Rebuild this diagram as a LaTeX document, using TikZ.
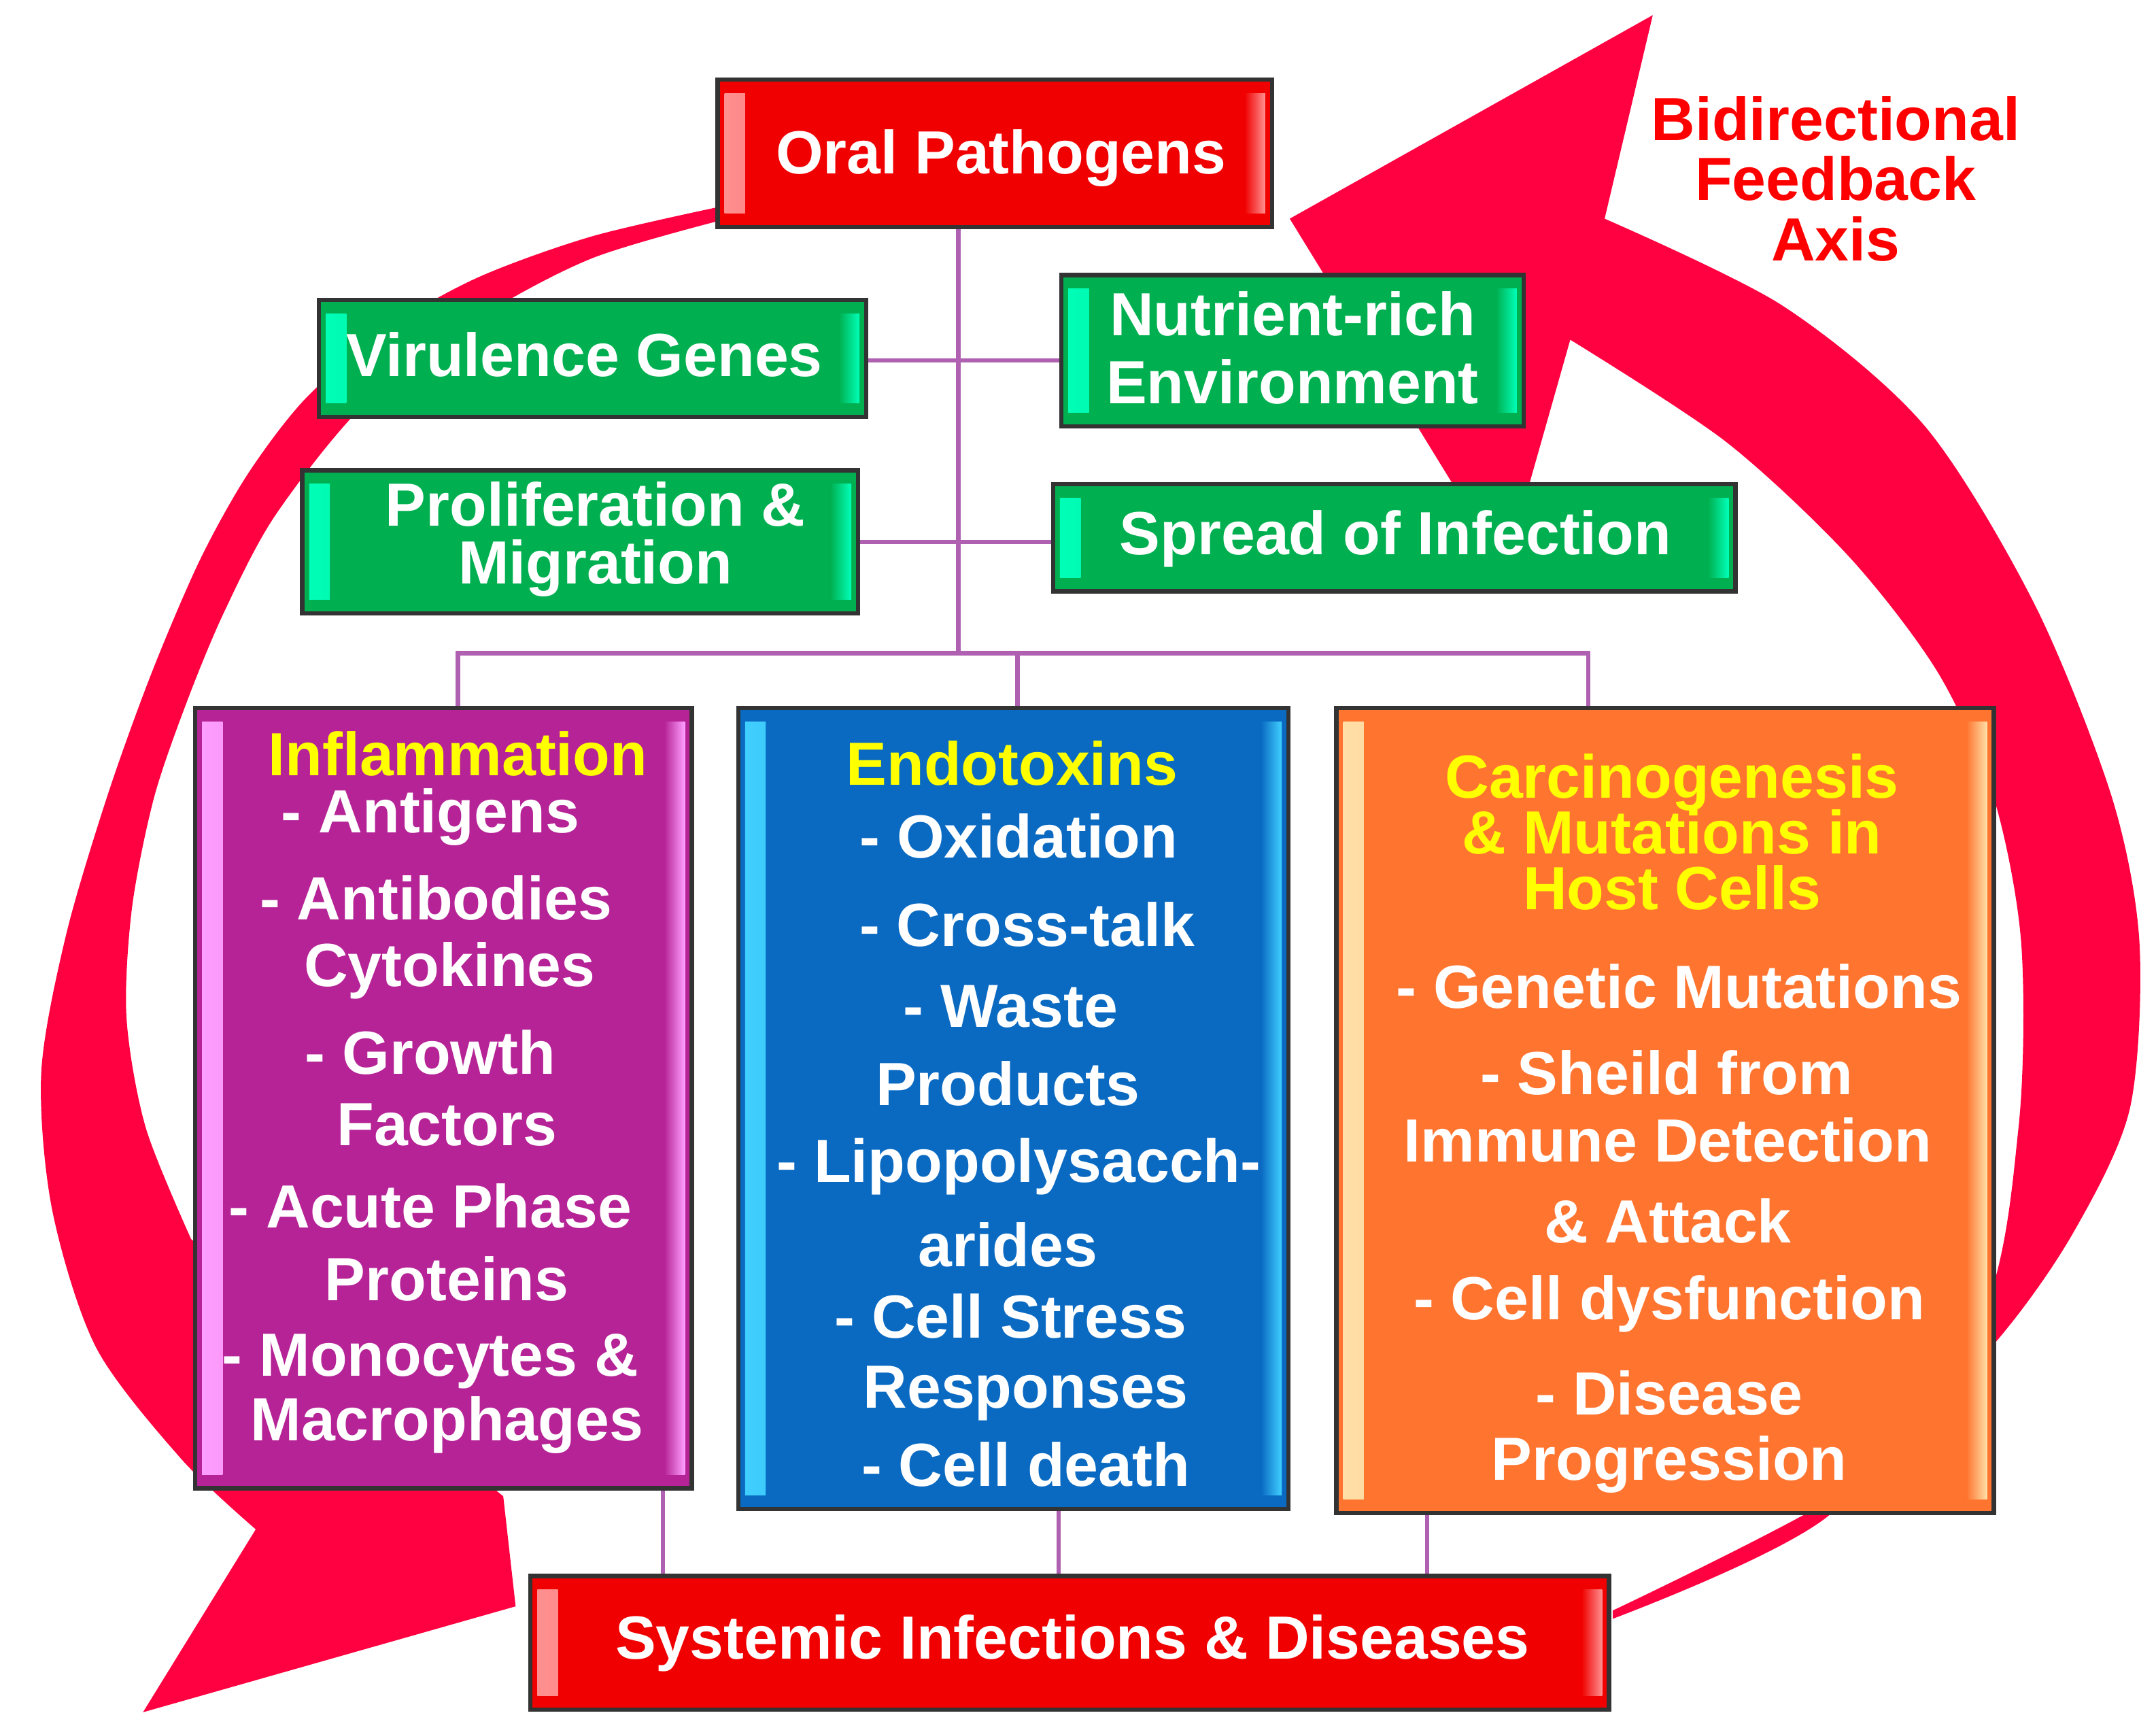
\documentclass[tikz,border=0pt]{standalone}
\usepackage{fontspec}
\setmainfont{Liberation Sans}
\definecolor{arr}{HTML}{FF0040}
\definecolor{conn}{HTML}{B060B0}
\definecolor{rbase}{HTML}{F00000}\definecolor{rstrip}{HTML}{FF9090}
\definecolor{gbase}{HTML}{00B050}\definecolor{gstrip}{HTML}{00FFB8}
\definecolor{pbase}{HTML}{B52396}\definecolor{pstrip}{HTML}{FFA0FF}
\definecolor{bbase}{HTML}{0A6AC2}\definecolor{bstrip}{HTML}{40D0FF}
\definecolor{obase}{HTML}{FF7530}\definecolor{ostrip}{HTML}{FFE0A8}
\definecolor{ytext}{HTML}{FFFF00}
\definecolor{border}{HTML}{333333}
\tikzset{
  box/.style 2 args={draw=border, line width=0.9pt, fill=#1, inner sep=0pt,
    path picture={
      \shade[left color=#2, right color=#1] ([xshift=0.05cm,yshift=0.1cm]path picture bounding box.south west) rectangle ([xshift=0.2cm,yshift=-0.1cm]path picture bounding box.north west);
      \shade[left color=#1, right color=#2] ([xshift=-0.2cm,yshift=0.1cm]path picture bounding box.south east) rectangle ([xshift=-0.05cm,yshift=-0.1cm]path picture bounding box.north east);}},
  txt/.style={font=\fontsize{12.6}{14}\selectfont\bfseries, text=white, inner sep=0pt, align=center},
  ytxt/.style={txt, text=ytext},
  link/.style={draw=conn, line width=0.9pt}
}
\begin{document}
\begin{tikzpicture}[x=0.01cm,y=-0.01cm]
\useasboundingbox (0,0) rectangle (1568,1256);
% feedback arrows
\fill[arr] (1173,1177) -- plot[smooth] coordinates {(1173,1177)(1330,1102)(1440,960)(1468,820)(1470,686)(1450,580)(1410,490)(1345,405)(1255,321)(1142,247)}
  -- (1100,395) -- (1083,395) -- (938,159) -- (1202,11) -- (1167,159)
  -- plot[smooth] coordinates {(1167,159)(1296,222)(1400,310)(1480,440)(1536,580)(1556,686)(1549,806)(1508,896)(1453,974)(1357,1075)(1173,1171)} -- cycle;
\fill[arr] (525,150) -- plot[smooth] coordinates {(525,150)(430,172)(347,202)(280,240)(222,290)(180,345)(145,408)(110,490)(78,579)(48,680)(30,780)(38,880)(70,980)(132,1061)(186,1112)}
  -- (104,1245) -- (375,1168) -- (366,1088) -- (139,901)
  -- plot[smooth] coordinates {(139,901)(106,820)(92,740)(96,660)(112,580)(136,510)(163,445)(200,375)(264,295)(347,232)(430,188)(525,160)} -- cycle;
\node[txt, text=red] (bfa) at (1335,130) {Bidirectional\\[-1.5pt]Feedback\\[-1.5pt]Axis};
% boxes
\node[box={rbase}{rstrip}, minimum width=4.03cm, minimum height=1.07cm] (oral) at (723.5,111.5) {};
\node[box={gbase}{gstrip}, minimum width=3.98cm, minimum height=0.85cm] (vir) at (431,260.5) {};
\node[box={gbase}{gstrip}, minimum width=3.36cm, minimum height=1.10cm] (nut) at (940,255) {};
\node[box={gbase}{gstrip}, minimum width=4.04cm, minimum height=1.04cm] (pro) at (422,394) {};
\node[box={gbase}{gstrip}, minimum width=4.96cm, minimum height=0.78cm] (spr) at (1014,391) {};
\node[box={pbase}{pstrip}, minimum width=3.61cm, minimum height=5.67cm] (inf) at (322.5,798.5) {};
\node[box={bbase}{bstrip}, minimum width=4.00cm, minimum height=5.82cm] (endo) at (737,806) {};
\node[box={obase}{ostrip}, minimum width=4.78cm, minimum height=5.85cm] (car) at (1211,807.5) {};
\node[box={rbase}{rstrip}, minimum width=7.84cm, minimum height=0.97cm] (sys) at (778,1194.5) {};
% connectors
\coordinate (tr) at (697,475);
\coordinate (d1) at (333,475);
\coordinate (d2) at (740,475);
\coordinate (d3) at (1155,475);
\draw[link] (oral.south -| tr) -- (tr);
\draw[link] (vir.east |- 0,262) -- (nut.west |- 0,262);
\draw[link] (pro.east |- 0,394) -- (spr.west |- 0,394);
\draw[link] (d1 |- inf.north) -- (d1) -- (d3) -- (d3 |- car.north);
\draw[link] (d2) -- (d2 |- endo.north);
\draw[link] (inf.south -| 482,0) -- (sys.north -| 482,0);
\draw[link] (endo.south -| 770,0) -- (sys.north -| 770,0);
\draw[link] (car.south -| 1038,0) -- (sys.north -| 1038,0);
% box texts
\node[txt] (toral) at (728,115) {Oral Pathogens};
\node[txt] (tvir) at (425,258) {Virulence Genes};
\node[txt] (tnut) at (940,253) {Nutrient-rich\\[0pt]Environment};
\node[txt] (tpro) at (433,392) {Proliferation \&\\[-2pt]Migration};
\node[txt] (tspr) at (1015,392) {Spread of Infection};
\node[txt] (tsys) at (780,1195) {Systemic Infections \& Diseases};
\node[ytxt] (i0) at (333,548) {Inflammation};
\foreach \y/\x/\t [count=\i] in {594/313/- Antigens, 653/317/- Antibodies, 706/327/Cytokines, 765/313/- Growth, 818/325/Factors, 877/313/- Acute Phase, 930/325/Proteins, 990/313/- Monocytes \&, 1036/325/Macrophages}
  \node[txt] (i\i) at (\x,\y) {\t};
\node[ytxt] (e0) at (736,555) {Endotoxins};
\foreach \y/\x/\t [count=\i] in {608/741/- Oxidation, 672/747/- Cross-talk, 732/735/- Waste, 788/733/Products, 848/741/- Lipopolysacch-, 905/733/arides, 957/735/- Cell Stress, 1013/746/Responses, 1065/746/- Cell death}
  \node[txt] (e\i) at (\x,\y) {\t};
\node[ytxt] (c0) at (1216,605) {Carcinogenesis\\[-2.5pt]\& Mutations in\\[-2.5pt]Host Cells};
\foreach \y/\x/\t [count=\i] in {717/1221/- Genetic Mutations, 780/1212/- Sheild from, 829/1213/Immune Detection, 888/1213/\& Attack, 948/1214/- Cell dysfunction, 1013/1214/- Disease, 1065/1214/Progression}
  \node[txt] (c\i) at (\x,\y) {\t};
\end{tikzpicture}
\end{document}
